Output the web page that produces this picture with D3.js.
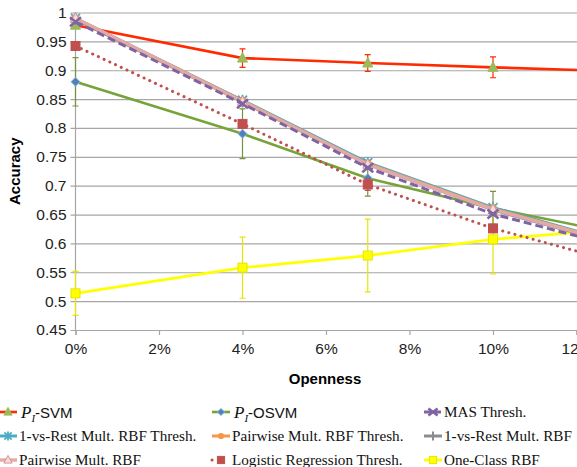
<!DOCTYPE html>
<html>
<head>
<meta charset="utf-8">
<script src="https://cdn.jsdelivr.net/npm/d3@7"></script>
<style>
  body { margin: 0; background: #fff; }
  svg { display: block; }
</style>
</head>
<body>
<div id="chart"></div>
<script>
// openness levels (last point lies beyond the cropped right edge)
const openness = [0, 0.04, 0.07, 0.10, 0.13];
const xTicks = [0, 0.02, 0.04, 0.06, 0.08, 0.10, 0.12];
const yTicks = [0.45, 0.5, 0.55, 0.6, 0.65, 0.7, 0.75, 0.8, 0.85, 0.9, 0.95, 1];

const svmAcc   = [0.978, 0.921, 0.9125, 0.905, 0.898];
const svmErr   = [0, 0.016, 0.0145, 0.018, 0.015];
const osvmAcc  = [0.880, 0.790, 0.713, 0.661, 0.617];
const osvmErr  = [0.042, 0.043, 0.031, 0.029, 0.03];
const masAcc   = [0.984, 0.842, 0.731, 0.651, 0.594];
const ovrThAcc = [0.990, 0.848, 0.740, 0.662, 0.601];
const pwThAcc  = [0.990, 0.847, 0.738, 0.660, 0.600];
const ovrAcc   = [0.988, 0.845, 0.737, 0.658, 0.598];
const pwAcc    = [0.990, 0.846, 0.737, 0.659, 0.599];
const logAcc   = [0.942, 0.807, 0.702, 0.626, 0.567];
const logErr   = [0.004, 0.006, 0.01, 0.007, 0.01];
const ocAcc    = [0.5135, 0.558, 0.579, 0.607, 0.625];
const ocErr    = [0.038, 0.053, 0.063, 0.06, 0.06];

const W = 577, H = 467;
const svg = d3.select(`#chart`).append(`svg`).attr(`width`, W).attr(`height`, H);

const x = d3.scaleLinear().domain([0, 0.12]).range([75.5, 576.5]);
const y = d3.scaleLinear().domain([0.45, 1]).range([330, 12.5]);

// gridlines + y axis labels
const yAxis = d3.axisLeft(y).tickValues(yTicks).tickSize(-(W + 20)).tickPadding(9)
  .tickFormat(d => d === 1 ? `1` : d3.format(`.2~f`)(d));
const gy = svg.append(`g`).attr(`transform`, `translate(75.5,0)`).call(yAxis);
gy.select(`.domain`).remove();
gy.selectAll(`.tick line`).attr(`stroke`, `#a6a6a6`).attr(`stroke-width`, 1.2).attr(`x1`, -5);
gy.selectAll(`.tick text`).attr(`font-family`, `Liberation Sans, Arial, sans-serif`)
  .attr(`font-size`, 15.5).attr(`fill`, `#222`);

// x axis
const xAxis = d3.axisBottom(x).tickValues(xTicks).tickSize(5).tickPadding(8)
  .tickFormat(d3.format(`.0%`));
const gx = svg.append(`g`).attr(`transform`, `translate(0,330)`).call(xAxis);
gx.select(`.domain`).attr(`stroke`, `#a6a6a6`).attr(`stroke-width`, 1.2);
gx.selectAll(`.tick line`).attr(`stroke`, `#a6a6a6`).attr(`stroke-width`, 1.2);
gx.selectAll(`.tick text`).attr(`font-family`, `Liberation Sans, Arial, sans-serif`)
  .attr(`font-size`, 15.5).attr(`fill`, `#222`);

// y axis line
svg.append(`line`).attr(`x1`, x(0)).attr(`x2`, x(0)).attr(`y1`, y(1)).attr(`y2`, y(0.45))
  .attr(`stroke`, `#a6a6a6`).attr(`stroke-width`, 1.2);

// axis titles
svg.append(`text`).attr(`transform`, `translate(20,${y(0.725)}) rotate(-90)`)
  .attr(`text-anchor`, `middle`).attr(`font-family`, `Liberation Sans, Arial, sans-serif`)
  .attr(`font-weight`, `bold`).attr(`font-size`, 15).text(`Accuracy`);
svg.append(`text`).attr(`x`, 325).attr(`y`, 384)
  .attr(`text-anchor`, `middle`).attr(`font-family`, `Liberation Sans, Arial, sans-serif`)
  .attr(`font-weight`, `bold`).attr(`font-size`, 15).text(`Openness`);

const plot = svg.append(`g`);

// marker drawing helpers
function marker(g, type, cx, cy, color, fill, s = 4.5) {
  if (type === `triangle`) {
    g.append(`path`).attr(`d`, `M${cx},${cy - s - 1}L${cx + s + 0.5},${cy + s - 0.5}L${cx - s - 0.5},${cy + s - 0.5}Z`)
      .attr(`fill`, fill).attr(`stroke`, color).attr(`stroke-width`, 1);
  } else if (type === `diamond`) {
    g.append(`path`).attr(`d`, `M${cx},${cy - s}L${cx + s},${cy}L${cx},${cy + s}L${cx - s},${cy}Z`)
      .attr(`fill`, fill).attr(`stroke`, color).attr(`stroke-width`, 1);
  } else if (type === `square`) {
    g.append(`rect`).attr(`x`, cx - s).attr(`y`, cy - s).attr(`width`, 2 * s).attr(`height`, 2 * s)
      .attr(`fill`, fill).attr(`stroke`, color).attr(`stroke-width`, 1);
  } else if (type === `circle`) {
    g.append(`circle`).attr(`cx`, cx).attr(`cy`, cy).attr(`r`, s - 0.5).attr(`fill`, fill);
  } else if (type === `x`) {
    g.append(`path`).attr(`d`, `M${cx - s - 1},${cy - s}L${cx + s + 1},${cy + s}M${cx - s - 1},${cy + s}L${cx + s + 1},${cy - s}`)
      .attr(`stroke`, color).attr(`stroke-width`, 2.5);
  } else if (type === `star`) {
    g.append(`path`).attr(`d`, `M${cx - s},${cy - s}L${cx + s},${cy + s}M${cx - s},${cy + s}L${cx + s},${cy - s}M${cx},${cy - s - 1}L${cx},${cy + s + 1}`)
      .attr(`stroke`, color).attr(`stroke-width`, 1.8);
  } else if (type === `plus`) {
    g.append(`path`).attr(`d`, `M${cx - s - 1},${cy}L${cx + s + 1},${cy}M${cx},${cy - s - 1}L${cx},${cy + s + 1}`)
      .attr(`stroke`, color).attr(`stroke-width`, 2);
  }
}

const series = [
  { name: `One-Class RBF`, acc: ocAcc, err: ocErr, color: `#ffff00`, width: 2.8, marker: `square`, mfill: `#ffff00`, mstroke: `#e6e600`, errColor: `#e6e600` },
  { name: `OSVM`, acc: osvmAcc, err: osvmErr, color: `#77a33a`, width: 2.6, marker: `diamond`, mfill: `#4f81bd`, mstroke: `#8eb4e3`, errColor: `#77933c` },
  { name: `Logistic`, acc: logAcc, err: logErr, color: `#c0504d`, width: 3, dash: `0.1 6.2`, marker: `square`, mfill: `#c0504d`, mstroke: `#c0504d`, errColor: `#c0504d` },
  { name: `SVM`, acc: svmAcc, err: svmErr, color: `#ff2a00`, width: 2.6, marker: `triangle`, mfill: `#9bbb59`, mstroke: `#9bbb59`, errColor: `#ff2a00` },
  { name: `1-vs-Rest Thresh`, acc: ovrThAcc, color: `#4bacc6`, width: 3, marker: `star`, mfill: `#4bacc6`, mstroke: `#4bacc6` },
  { name: `Pairwise Thresh`, acc: pwThAcc, color: `#f79646`, width: 3, marker: `circle`, mfill: `#f79646`, mstroke: `#f79646` },
  { name: `1-vs-Rest`, acc: ovrAcc, color: `#8c8c8c`, width: 3, marker: `plus`, mfill: `#8c8c8c`, mstroke: `#8c8c8c` },
  { name: `Pairwise`, acc: pwAcc, color: `#e3a9a7`, width: 3.4, marker: `triangle`, mfill: `#f2dcdb`, mstroke: `#d99694` },
  { name: `MAS`, acc: masAcc, color: `#8064a2`, width: 3, dash: `8 4`, marker: `x`, mfill: `#8064a2`, mstroke: `#8064a2` },
];

const line = d3.line().x(d => x(d[0])).y(d => y(d[1]));

series.forEach(s => {
  const pts = openness.map((o, i) => [o, s.acc[i]]);
  const g = plot.append(`g`);
  g.append(`path`).attr(`d`, line(pts)).attr(`fill`, `none`)
    .attr(`stroke`, s.color).attr(`stroke-width`, s.width)
    .attr(`stroke-linecap`, s.dash && s.dash.startsWith(`0.1`) ? `round` : `butt`)
    .attr(`stroke-dasharray`, s.dash || null);
  if (s.err) {
    pts.forEach((p, i) => {
      const e = s.err[i];
      if (!e) return;
      const cx = x(p[0]);
      g.append(`path`)
        .attr(`d`, `M${cx},${y(p[1] + e)}V${y(p[1] - e)}M${cx - 3},${y(p[1] + e)}H${cx + 3}M${cx - 3},${y(p[1] - e)}H${cx + 3}`)
        .attr(`stroke`, s.errColor).attr(`stroke-width`, 1.2).attr(`fill`, `none`);
    });
  }
  pts.forEach(p => marker(g, s.marker, x(p[0]), y(p[1]), s.mstroke, s.mfill));
});

// legend
const legendItems = [
  { col: 0, row: 0, s: 3, label: null, sub: `SVM` },
  { col: 1, row: 0, s: 1, label: null, sub: `OSVM` },
  { col: 2, row: 0, s: 8, label: `MAS Thresh.` },
  { col: 0, row: 1, s: 4, label: `1-vs-Rest Mult. RBF Thresh.` },
  { col: 1, row: 1, s: 5, label: `Pairwise Mult. RBF Thresh.` },
  { col: 2, row: 1, s: 6, label: `1-vs-Rest Mult. RBF` },
  { col: 0, row: 2, s: 7, label: `Pairwise Mult. RBF` },
  { col: 1, row: 2, s: 2, label: `Logistic Regression Thresh.` },
  { col: 2, row: 2, s: 0, label: `One-Class RBF` },
];
const colX = [8, 221, 433];
const rowY = [412, 436, 460];
const lg = svg.append(`g`);
legendItems.forEach(it => {
  const s = series[it.s];
  const cx = colX[it.col], cy = rowY[it.row];
  lg.append(`line`).attr(`x1`, cx - 9).attr(`x2`, cx + 9).attr(`y1`, cy).attr(`y2`, cy)
    .attr(`stroke`, s.color).attr(`stroke-width`, s.width)
    .attr(`stroke-linecap`, s.dash && s.dash.startsWith(`0.1`) ? `round` : `butt`)
    .attr(`stroke-dasharray`, s.dash ? (s.dash.startsWith(`0.1`) ? `0.1 9` : `7 3`) : null);
  marker(lg, s.marker, cx, cy, s.mstroke, s.mfill, 3.6);
  const tx = cx + 11;
  if (it.label) {
    lg.append(`text`).attr(`x`, tx).attr(`y`, cy + 5.2)
      .attr(`font-family`, `Liberation Serif, Times New Roman, serif`).attr(`font-size`, 15.2)
      .attr(`fill`, `#111`).text(it.label);
  } else {
    const t = lg.append(`text`).attr(`x`, tx + 2).attr(`y`, cy + 5.5).attr(`fill`, `#111`);
    t.append(`tspan`).attr(`font-family`, `Liberation Serif, serif`).attr(`font-style`, `italic`)
      .attr(`font-size`, 17).text(`P`);
    t.append(`tspan`).attr(`font-family`, `Liberation Serif, serif`).attr(`font-style`, `italic`)
      .attr(`font-size`, 11).attr(`dy`, 4).text(`I`);
    t.append(`tspan`).attr(`font-family`, `Liberation Sans, Arial, sans-serif`)
      .attr(`font-size`, 15).attr(`dy`, -4).text(`-${it.sub}`);
  }
});
</script>
</body>
</html>
